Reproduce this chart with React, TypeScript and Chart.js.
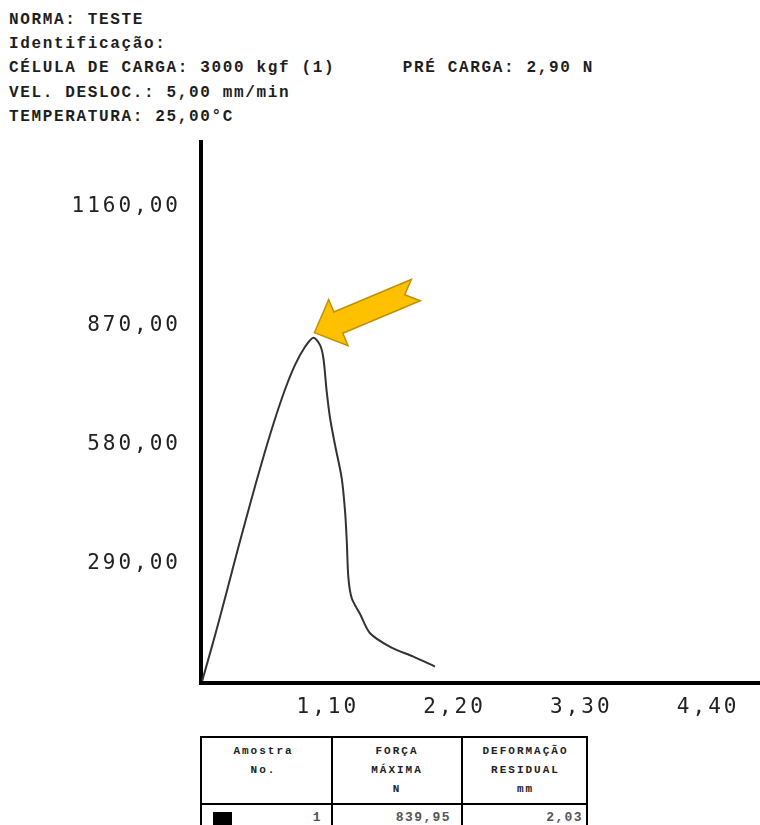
import React, { useEffect, useRef } from "react";
import { Chart, registerables } from "chart.js";

Chart.register(...registerables);

// ---- data ----
const DEFORMATION_MM = [
  0.01, 0.122, 0.223, 0.324, 0.425, 0.527, 0.628, 0.729, 0.816, 0.903, 0.975, 1.033,
  1.062, 1.091, 1.12, 1.163, 1.221, 1.25, 1.265, 1.279, 1.308, 1.38, 1.467, 1.641,
  1.843, 2.03,
];
const FORCE_N = [
  5, 116, 222, 330, 434, 536, 630, 714, 774, 818, 840, 822, 790, 708, 644, 579, 498,
  417, 344, 255, 206, 168, 121, 88, 64, 40,
];
const X_TICKS = [1.1, 2.2, 3.3, 4.4];
const Y_TICKS = [290, 580, 870, 1160];
const X_MAX = 4.85;
const Y_MAX = 1316;

const HEADER_LINES = [
  "NORMA: TESTE",
  "Identificação:",
  "CÉLULA DE CARGA: 3000 kgf (1)      PRÉ CARGA: 2,90 N",
  "VEL. DESLOC.: 5,00 mm/min",
  "TEMPERATURA: 25,00°C",
];
const TABLE_HEADERS = [
  ["Amostra", "No."],
  ["FORÇA", "MÁXIMA", "N"],
  ["DEFORMAÇÃO", "RESIDUAL", "mm"],
];
const TABLE_ROW = ["1", "839,95", "2,03"];

const fmt = (v: number) => Number(v).toFixed(2).replace(".", ",");

const spacingPlugin = {
  id: "spacing",
  beforeDraw(chart: any) {
    chart.ctx.letterSpacing = "3px";
  },
  afterDraw(chart: any) {
    chart.ctx.letterSpacing = "0px";
  },
};

const arrowPlugin = {
  id: "peakArrow",
  afterDatasetsDraw(chart: any) {
    let peak = 0;
    FORCE_N.forEach((v, i) => {
      if (v > FORCE_N[peak]) peak = i;
    });
    const px = chart.scales.x.getPixelForValue(DEFORMATION_MM[peak]);
    const py = chart.scales.y.getPixelForValue(FORCE_N[peak]);
    const tipX = px + 1;
    const tipY = py - 5;
    const ang = Math.atan2(-42, 100);
    const pts: [number, number][] = [
      [0, 0],
      [26, -25],
      [26, -11.5],
      [110, -11.5],
      [98, 0],
      [110, 11.5],
      [26, 11.5],
      [26, 25],
    ];
    const ctx = chart.ctx;
    ctx.save();
    ctx.translate(tipX, tipY);
    ctx.rotate(ang);
    ctx.beginPath();
    pts.forEach(([u, v], i) => (i ? ctx.lineTo(u, v) : ctx.moveTo(u, v)));
    ctx.closePath();
    ctx.fillStyle = "#FFC000";
    ctx.fill();
    ctx.lineWidth = 1.5;
    ctx.strokeStyle = "#BF9000";
    ctx.lineJoin = "miter";
    ctx.stroke();
    ctx.restore();
  },
};

function ChartCanvas() {
  const ref = useRef<HTMLCanvasElement | null>(null);
  useEffect(() => {
    if (!ref.current) return;
    const tickFont = { family: "'DejaVu Sans Mono', monospace", size: 21 };
    const chart = new Chart(ref.current, {
      type: "line",
      data: {
        datasets: [
          {
            data: DEFORMATION_MM.map((x, i) => ({ x, y: FORCE_N[i] })),
            borderColor: "#333",
            borderWidth: 2,
            pointRadius: 0,
            tension: 0.3,
            fill: false,
          },
        ],
      },
      options: {
        animation: false,
        responsive: false,
        maintainAspectRatio: false,
        layout: { padding: { top: 12, left: 0, right: 0, bottom: 0 } },
        plugins: { legend: { display: false }, tooltip: { enabled: false } },
        scales: {
          x: {
            type: "linear",
            min: 0,
            max: X_MAX,
            grid: { display: false, drawTicks: false },
            border: { display: true, color: "#000", width: 4 },
            ticks: {
              font: tickFont,
              color: "#222",
              padding: 12,
              autoSkip: false,
              maxRotation: 0,
              callback: (v: any) => fmt(v),
            },
            afterBuildTicks: (s: any) => {
              s.ticks = X_TICKS.map((value) => ({ value }));
            },
            afterFit: (s: any) => {
              s.height = 47;
              s.paddingLeft = 0;
              s.paddingRight = 0;
            },
          },
          y: {
            type: "linear",
            min: 0,
            max: Y_MAX,
            grid: { display: false, drawTicks: false },
            border: { display: true, color: "#000", width: 4 },
            ticks: {
              font: tickFont,
              color: "#222",
              padding: 20,
              autoSkip: false,
              callback: (v: any) => fmt(v),
            },
            afterBuildTicks: (s: any) => {
              s.ticks = Y_TICKS.map((value) => ({ value }));
            },
            afterFit: (s: any) => {
              s.width = 201;
              s.paddingTop = 0;
              s.paddingBottom = 0;
            },
          },
        },
      },
      plugins: [spacingPlugin, arrowPlugin],
    } as any);
    return () => chart.destroy();
  }, []);
  return (
    <canvas
      ref={ref}
      width={760}
      height={600}
      style={{ position: "absolute", left: 0, top: 130, width: 760, height: 600, display: "block" }}
    />
  );
}

export default function App() {
  const headerFont: React.CSSProperties = {
    fontFamily: "'Liberation Mono', monospace",
    fontWeight: "bold",
    fontSize: 16,
    letterSpacing: "1.65px",
    color: "#1e1e1e",
    whiteSpace: "pre",
    position: "absolute",
    left: 9,
    lineHeight: "24px",
  };
  const headerTops = [8, 32, 56, 81, 105];
  const colEdges = [201, 332, 462, 589];
  const thFont: React.CSSProperties = {
    fontFamily: "'Liberation Mono', monospace",
    fontWeight: "bold",
    fontSize: 11,
    letterSpacing: "2px",
    color: "#222",
    lineHeight: "19px",
    textAlign: "center",
    whiteSpace: "pre",
  };
  const tdFont: React.CSSProperties = {
    fontFamily: "'Liberation Mono', monospace",
    fontWeight: "bold",
    fontSize: 13,
    letterSpacing: "1.4px",
    color: "#555",
    lineHeight: "16px",
    textAlign: "right",
    whiteSpace: "pre",
    position: "absolute",
    top: 810,
  };
  const rightPad = [10, 11, 6];
  return (
    <div
      style={{
        position: "absolute",
        left: 0,
        top: 0,
        width: 760,
        height: 825,
        overflow: "hidden",
        background: "#fff",
      }}
    >
      {HEADER_LINES.map((t, i) => (
        <div key={i} style={{ ...headerFont, top: headerTops[i] }}>
          {t}
        </div>
      ))}
      <ChartCanvas />
      {/* table */}
      <div
        style={{
          position: "absolute",
          left: colEdges[0] - 1,
          top: 736,
          width: colEdges[3] - colEdges[0],
          height: 120,
          border: "2px solid #000",
          boxSizing: "border-box",
        }}
      />
      {[colEdges[1], colEdges[2]].map((x, i) => (
        <div
          key={i}
          style={{ position: "absolute", left: x - 1, top: 736, width: 2, height: 120, background: "#000" }}
        />
      ))}
      <div
        style={{
          position: "absolute",
          left: colEdges[0] - 1,
          top: 803,
          width: colEdges[3] - colEdges[0],
          height: 2,
          background: "#000",
        }}
      />
      {TABLE_HEADERS.map((lines, c) => (
        <div
          key={c}
          style={{
            ...thFont,
            position: "absolute",
            left: colEdges[c],
            width: colEdges[c + 1] - colEdges[c] - (c === 0 ? 6 : 0),
            top: 742,
          }}
        >
          {lines.join("\n")}
        </div>
      ))}
      <div style={{ position: "absolute", left: 213, top: 812, width: 19, height: 19, background: "#000" }} />
      {TABLE_ROW.map((t, c) => (
        <div
          key={c}
          style={{
            ...tdFont,
            left: colEdges[c],
            width: colEdges[c + 1] - colEdges[c] - rightPad[c],
          }}
        >
          {t}
        </div>
      ))}
    </div>
  );
}
